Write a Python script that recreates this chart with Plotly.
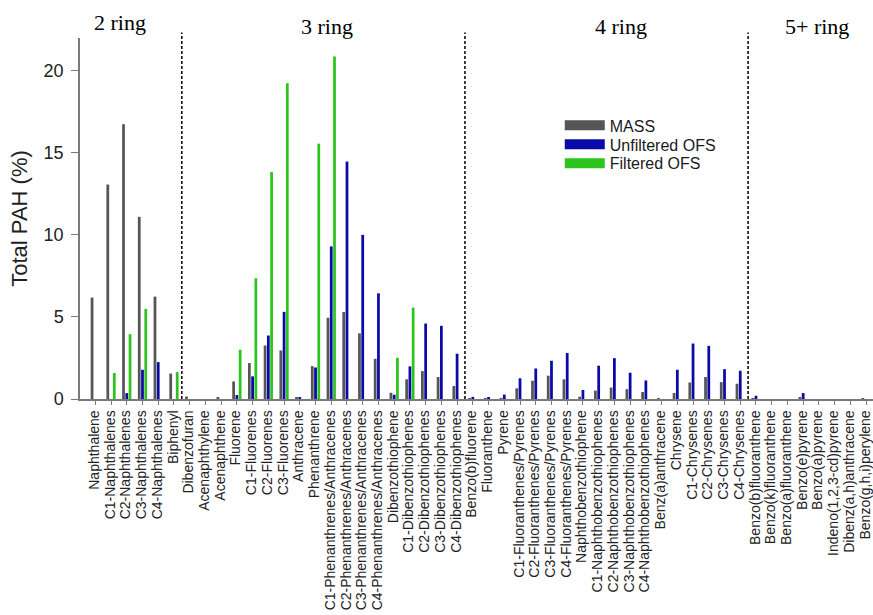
import plotly.graph_objects as go

categories = [
    "Naphthalene", "C1-Naphthalenes", "C2-Naphthalenes", "C3-Naphthalenes", "C4-Naphthalenes", "Biphenyl",
    "Dibenzofuran", "Acenaphthylene", "Acenaphthene", "Fluorene", "C1-Fluorenes", "C2-Fluorenes", "C3-Fluorenes",
    "Anthracene", "Phenanthrene", "C1-Phenanthrenes/Anthracenes", "C2-Phenanthrenes/Anthracenes",
    "C3-Phenanthrenes/Anthracenes", "C4-Phenanthrenes/Anthracenes", "Dibenzothiophene",
    "C1-Dibenzothiophenes", "C2-Dibenzothiophenes", "C3-Dibenzothiophenes", "C4-Dibenzothiophenes",
    "Benzo(b)fluorene", "Fluoranthene", "Pyrene", "C1-Fluoranthenes/Pyrenes", "C2-Fluoranthenes/Pyrenes",
    "C3-Fluoranthenes/Pyrenes", "C4-Fluoranthenes/Pyrenes", "Naphthobenzothiophene",
    "C1-Naphthobenzothiophenes", "C2-Naphthobenzothiophenes", "C3-Naphthobenzothiophenes",
    "C4-Naphthobenzothiophenes", "Benz(a)anthracene", "Chrysene", "C1-Chrysenes", "C2-Chrysenes",
    "C3-Chrysenes", "C4-Chrysenes",
    "Benzo(b)fluoranthene", "Benzo(k)fluoranthene", "Benzo(a)fluoranthene", "Benzo(e)pyrene",
    "Benzo(a)pyrene", "Indeno(1,2,3-cd)pyrene", "Dibenz(a,h)anthracene", "Benzo(g,h,i)perylene",
]

mass = [6.18, 13.07, 16.74, 11.1, 6.24, 1.55,
        0.15, 0.0, 0.1, 1.07, 2.19, 3.26, 2.96, 0.1, 2.0, 4.95, 5.3, 4.0, 2.45, 0.38, 1.2, 1.7, 1.34, 0.79,
        0.05, 0.03, 0.06, 0.65, 1.11, 1.42, 1.2, 0.14, 0.51, 0.7, 0.6, 0.43, 0.05, 0.37, 1.01, 1.34, 1.03, 0.93,
        0.05, 0.0, 0.0, 0.1, 0.0, 0.0, 0.0, 0.05]
unfiltered = [0, 0, 0.36, 1.78, 2.25, 0,
              0, 0, 0, 0.24, 1.38, 3.87, 5.31, 0.08, 1.92, 9.3, 14.47, 10.0, 6.44, 0.26, 1.99, 4.6, 4.46, 2.76,
              0.13, 0.1, 0.27, 1.26, 1.86, 2.33, 2.8, 0.55, 2.03, 2.49, 1.6, 1.13, 0, 1.78, 3.38, 3.24, 1.82, 1.72,
              0.2, 0, 0, 0.36, 0, 0, 0, 0]
filtered = [0, 1.58, 3.95, 5.49, 0, 1.64,
            0, 0, 0, 3.0, 7.36, 13.84, 19.25, 0, 15.56, 20.87, 0, 0, 0, 2.51, 5.57, 0, 0, 0,
            0, 0, 0, 0, 0, 0, 0, 0, 0, 0, 0, 0, 0, 0, 0, 0, 0, 0,
            0, 0, 0, 0, 0, 0, 0, 0]

series_names = ["MASS", "Unfiltered OFS", "Filtered OFS"]
series_colors = ["#565656", "#0a0aa8", "#2ec41e"]

ring_labels = ["2 ring", "3 ring", "4 ring", "5+ ring"]
ring_label_x = [1.57, 14.7, 33.4, 45.9]
group_dividers = [5.5, 23.5, 41.5]

fig = go.Figure()
for name, vals, col in zip(series_names, [mass, unfiltered, filtered], series_colors):
    fig.add_trace(go.Bar(x=categories, y=vals, name=name, marker=dict(color=col, line=dict(width=0)),
                         showlegend=False))
# legend proxies (wide rectangles), one legend per row for exact spacing
legend_ids = ["legend", "legend2", "legend3"]
for name, col, lid in zip(series_names, series_colors, legend_ids):
    fig.add_trace(go.Scatter(x=[None], y=[None], mode="lines", name=name, legend=lid,
                             line=dict(color=col, width=10), showlegend=True))

for xd in group_dividers:
    fig.add_shape(type="line", xref="x", yref="paper", x0=xd, x1=xd, y0=0, y1=1.015,
                  line=dict(color="black", width=1.5, dash="3px,2px"))

for lab, xl in zip(ring_labels, ring_label_x):
    fig.add_annotation(text=lab, x=xl, xref="x", y=1.0025 if lab == "2 ring" else 0.991, yref="paper",
                       yanchor="bottom", showarrow=False,
                       font=dict(family="Liberation Serif", size=22, color="black"))

leg_common = dict(x=0.605, xanchor="left", yanchor="middle", bgcolor="rgba(0,0,0,0)",
                  font=dict(size=16, color="#1a1a1a"), itemwidth=40)
fig.update_layout(
    width=873, height=615,
    margin=dict(l=80, r=0, t=38, b=216, autoexpand=False),
    paper_bgcolor="white", plot_bgcolor="white",
    barmode="group", bargap=0.38, bargroupgap=0.15,
    font=dict(family="Liberation Sans", color="#222"),
    legend=dict(y=0.758, **leg_common),
    legend2=dict(y=0.7054, **leg_common),
    legend3=dict(y=0.653, **leg_common),
    xaxis=dict(type="category", range=[-0.973, 49.44], tickangle=-90, tickfont=dict(size=14, color="#222"),
               tickmode="array", tickvals=categories, ticktext=categories, ticklabelshift=-1,
               showline=True, linecolor="#7a7a7a", linewidth=1.5, ticks="outside", ticklen=4,
               tickcolor="#7a7a7a", showgrid=False, zeroline=False, automargin=False),
    yaxis=dict(range=[0, 22], tickvals=[0, 5, 10, 15, 20], tickfont=dict(size=18, color="#222"),
               showline=True, linecolor="#7a7a7a", linewidth=1.5, ticks="outside", ticklen=7,
               tickcolor="#7a7a7a", showgrid=False, zeroline=False, automargin=False,
               ticklabelstandoff=4,
               title=dict(text="Total PAH (%)", font=dict(size=22, color="#222"), standoff=10)),
)

# remove the default 8px page margin so the figure fills the window exactly
fig.write_html("out.html", config={"displayModeBar": False},
               post_script="document.body.style.margin='0';document.body.style.overflow='hidden';")
